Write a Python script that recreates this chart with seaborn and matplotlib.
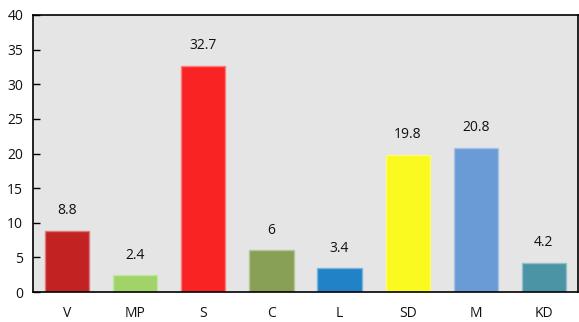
import matplotlib
matplotlib.use("Agg")
import matplotlib.pyplot as plt
import matplotlib.colors as mcolors
import seaborn as sns
import pandas as pd
import numpy as np

parties = ["V", "MP", "S", "C", "L", "SD", "M", "KD"]
values = [8.8, 2.4, 32.7, 6, 3.4, 19.8, 20.8, 4.2]
labels = ["8.8", "2.4", "32.7", "6", "3.4", "19.8", "20.8", "4.2"]
colors = ["#c22222", "#a0d468", "#fa2323", "#87a055", "#2182c8", "#fafa20", "#6a9bd6", "#4a94a6"]
yticks = [0, 5, 10, 15, 20, 25, 30, 35, 40]

sns.set_theme(style="white")
plt.rcParams["font.family"] = ["Open Sans", "DejaVu Sans"]

df = pd.DataFrame({"party": parties, "value": values})

fig = plt.figure(figsize=(5.79, 3.22), dpi=100)
ax = fig.add_axes([33/579, 30/322, 545/579, 277/322])
ax.set_facecolor("#e5e5e5")

sns.barplot(data=df, x="party", y="value", hue="party", palette=colors,
            width=0.65, legend=False, ax=ax, linewidth=1.0, saturation=1)
for p, c in zip(ax.patches, colors):
    rgb = np.array(mcolors.to_rgb(c))
    p.set_edgecolor(tuple(rgb * 0.6 + 0.4))

for i, (v, lab) in enumerate(zip(values, labels)):
    ax.annotate(lab, (i, v), xytext=(0, 14.5), textcoords="offset points",
                ha="center", va="center", fontsize=10, color="#111111")

ax.set_ylim(0, 40)
ax.set_xlim(-0.5, len(parties) - 0.5)
ax.set_yticks(yticks)
ax.set_yticklabels([str(t) for t in yticks])
ax.set_xlabel("")
ax.set_ylabel("")
ax.tick_params(axis="y", which="both", left=True, direction="in", length=5, width=1,
               color="black", labelsize=10, pad=7, labelcolor="#111111")
ax.tick_params(axis="x", length=0, pad=10, labelsize=10, labelcolor="#111111")
for s in ax.spines.values():
    s.set_visible(True)
    s.set_color("black")
    s.set_linewidth(1.2)

fig.savefig("out.png", dpi=100)
